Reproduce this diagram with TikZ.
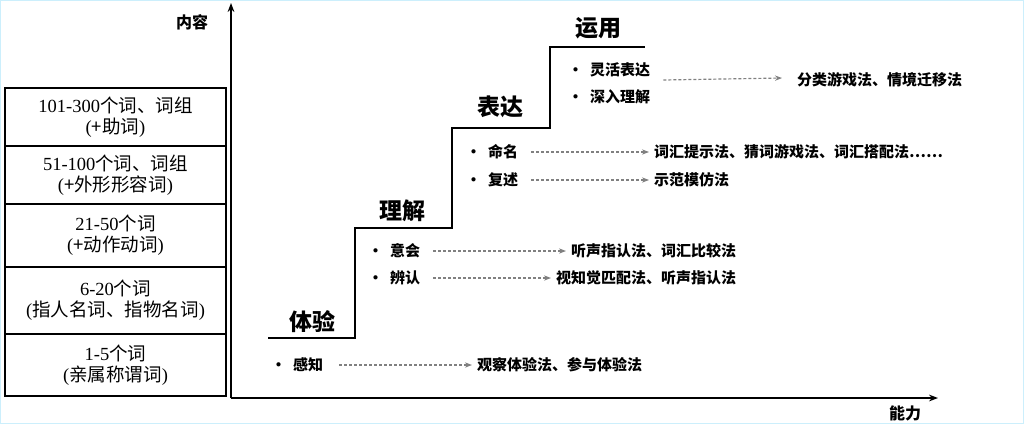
\documentclass[tikz,border=0pt]{standalone}
\usepackage{fontspec}
\setmainfont{Liberation Serif}
\newfontfamily\cjk{Noto Sans CJK SC}
\usetikzlibrary{arrows.meta}
\begin{document}
\begin{tikzpicture}[x=1pt,y=-1pt,
  cell/.style={draw,line width=1.5pt,minimum width=221pt,align=center,inner sep=0pt,font=\fontsize{18.5}{21}\selectfont},
  lvl/.style={font=\cjk\bfseries\fontsize{23}{23}\selectfont},
  itm/.style={anchor=west,font=\cjk\bfseries\fontsize{15}{15}\selectfont,inner sep=1pt},
  mth/.style={anchor=west,font=\cjk\bfseries\fontsize{15}{15}\selectfont,inner sep=1pt},
  dots/.style={draw=gray,densely dashed,line width=1.2pt,-{Stealth[length=7pt]},shorten >=4pt},
  ax/.style={line width=1.6pt,-{Stealth[length=9pt]}}]
\useasboundingbox (0,0) rectangle (1024,424);
\draw[cyan!20] (0.5,0.5) rectangle (1023.5,423.5);
% left table
\node[cell,minimum height=58pt] (c1) at (115.5,117) {101-300{\cjk 个词、词组}\\({\cjk +助词})};
\node[cell,minimum height=58pt] (c2) at (115.5,175) {51-100{\cjk 个词、词组}\\({\cjk +外形形容词})};
\node[cell,minimum height=63pt] (c3) at (115.5,235.5) {21-50{\cjk 个词}\\({\cjk +动作动词})};
\node[cell,minimum height=67pt] (c4) at (115.5,300.5) {6-20{\cjk 个词}\\({\cjk 指人名词、指物名词})};
\node[cell,minimum height=62pt] (c5) at (115.5,365) {1-5{\cjk 个词}\\({\cjk 亲属称谓词})};
% axes
\coordinate (o) at (231,398);
\coordinate (yt) at (231,3);
\coordinate (xt) at (938,398);
\draw[ax] (o) -- (yt);
\draw[ax] (o) -- (xt);
\node[font=\cjk\bfseries\fontsize{16}{16}\selectfont] (yl) at (192,22) {内容};
\node[font=\cjk\bfseries\fontsize{16}{16}\selectfont] (xl) at (905,413) {能力};
% stairs
\draw[line width=2pt] (268,338) -- (355,338) -- (355,228) -- (452,228) -- (452,128) -- (550,128) -- (550,47) -- (645,47);
\node[lvl] (l1) at (312,322) {体验};
\node[lvl] (l2) at (402,211) {理解};
\node[lvl] (l3) at (500,107) {表达};
\node[lvl] (l4) at (598,28) {运用};
% items
\node[itm] (a1) at (270,365) {•\ \ 感知};
\node[mth] (m1) at (476,365) {观察体验法、参与体验法};
\draw[dots] ([xshift=15pt]a1.east) -- (m1.west);
\node[itm] (b1) at (367,251) {•\ \ 意会};
\node[mth] (n1) at (570,251) {听声指认法、词汇比较法};
\draw[dots] ([xshift=12pt]b1.east) -- (n1.west);
\node[itm] (b2) at (367,278) {•\ \ 辨认};
\node[mth] (n2) at (555,278) {视知觉匹配法、听声指认法};
\draw[dots] ([xshift=12pt]b2.east) -- (n2.west);
\node[itm] (c6) at (465,152) {•\ \ 命名};
\node[mth] (p1) at (653,152) {词汇提示法、猜词游戏法、词汇搭配法……};
\draw[dots] ([xshift=12pt]c6.east) -- (p1.west);
\node[itm] (c7) at (465,180) {•\ \ 复述};
\node[mth] (p2) at (653,180) {示范模仿法};
\draw[dots] ([xshift=12pt]c7.east) -- (p2.west);
\node[itm] (d1) at (567,70) {•\ \ 灵活表达};
\node[itm] (d2) at (567,97) {•\ \ 深入理解};
\node[mth] (q1) at (796,80) {分类游戏法、情境迁移法};
\coordinate (qe) at (782,78);
\draw[dots,shorten >=0pt] ([xshift=12pt,yshift=-10pt]d1.east) -- (qe);
\end{tikzpicture}
\end{document}
